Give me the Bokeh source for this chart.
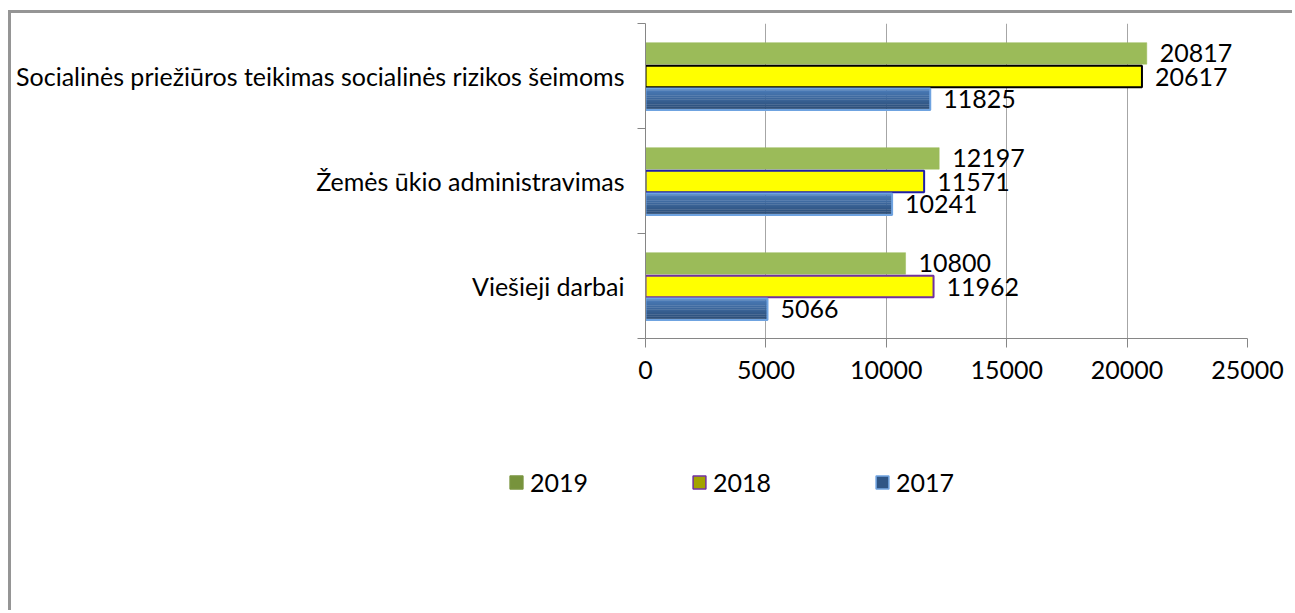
from bokeh.plotting import figure
from bokeh.models import Range1d, FixedTicker, ColumnDataSource, Legend, LegendItem, LabelSet
from bokeh.embed import file_html
from bokeh.resources import INLINE
from bokeh.core.properties import value

# ---- data ----
categories = ["Viešieji darbai",
              "Žemės ūkio administravimas",
              "Socialinės priežiūros teikimas socialinės rizikos šeimoms"]
years = ["2019", "2018", "2017"]
v2019 = [10800, 12197, 20817]
v2018 = [11962, 11571, 20617]
v2017 = [5066, 10241, 11825]
x_ticks = [0, 5000, 10000, 15000, 20000, 25000]

FONT = "Lato"
FS = "25px"
AXIS_C = "#868686"
BORDER = "3px solid #959595"
W = 1284

p = figure(width=W, height=400, x_range=Range1d(0, 25000), y_range=Range1d(0, len(categories)),
           output_backend="svg", toolbar_location=None,
           min_border_left=634, min_border_right=48, min_border_top=10, min_border_bottom=75)
p.styles = {"border-top": BORDER, "border-left": BORDER, "margin-left": "8px", "margin-top": "10px"}
p.outline_line_color = None
p.background_fill_color = "white"

# legend-only figure directly under the chart (separate root, no frame alignment)
lg = figure(width=W, height=200, x_range=Range1d(0, 25000), y_range=Range1d(0, len(categories)),
            output_backend="svg", toolbar_location=None, min_border=0,
            x_axis_location=None, y_axis_location=None)
lg.styles = {"border-left": BORDER, "margin-left": "8px"}
lg.grid.visible = False
lg.outline_line_color = None

centers = [i + 0.5 for i in range(len(categories))]

series = [
    dict(vals=v2019, off=0.215, fill="#9bbb59", line=["#9bbb59"] * 3, lw=0.5,
         lfill="#77933c", lline="#77933c", grad=None),
    dict(vals=v2018, off=-0.005, fill="#ffff00", line=["#7030a0", "#1f1fa8", "#000000"], lw=2,
         lfill="#a3a300", lline="#7030a0", grad=None),
    dict(vals=v2017, off=-0.222, fill=None, line=["#6fa3e0"] * 3, lw=2,
         lfill="#2f5585", lline="#6fa3e0",
         grad=["#4b7cb8", "#4878b3", "#4573ad", "#426fa7", "#3f6ba1", "#3c669b", "#396295",
               "#365e8f", "#335989", "#305582", "#2e517c", "#2c4d75"]),
]
BAR_H = 0.205

legend_items = []
for yr, s in zip(years, series):
    ys = [c + s["off"] for c in centers]
    src = ColumnDataSource(dict(y=ys, v=s["vals"],
                                lab=[str(v) for v in s["vals"]], lc=s["line"]))
    if s["grad"]:
        n = len(s["grad"])
        sh = BAR_H / n
        for k, col in enumerate(s["grad"]):
            p.hbar(y=[y + BAR_H / 2 - sh * (k + 0.5) for y in ys], left=0, right=s["vals"],
                   height=sh * 1.15, fill_color=col, line_color=None)
    p.hbar(y="y", left=0, right="v", height=BAR_H, source=src,
           fill_color=s["fill"], line_color="lc", line_width=s["lw"])
    p.add_layout(LabelSet(x="v", y="y", text="lab", source=src, x_offset=13,
                          text_baseline="middle", text_align="left",
                          text_font=value(FONT), text_font_size=FS, text_color="#000000"))
    # hidden renderer (same data) used only for the legend swatch
    sw = lg.hbar(y=ys, left=0, right=s["vals"], height=BAR_H, fill_color=s["lfill"],
                 line_color=s["lline"], line_width=1.5, visible=False)
    legend_items.append(LegendItem(label=yr, renderers=[sw]))

# x axis
p.xaxis.ticker = FixedTicker(ticks=x_ticks)
p.xaxis.axis_line_color = AXIS_C
p.xaxis.major_tick_line_color = AXIS_C
p.xaxis.major_tick_in = 0
p.xaxis.major_tick_out = 9
p.xaxis.minor_tick_line_color = None
p.xaxis.major_label_text_font = FONT
p.xaxis.major_label_text_font_size = FS
p.xaxis.major_label_text_color = "#000000"
p.xaxis.major_label_standoff = 13
p.xgrid.ticker = FixedTicker(ticks=x_ticks)
p.xgrid.grid_line_color = "#a6a6a6"
p.ygrid.visible = False

# y axis
p.yaxis.ticker = FixedTicker(ticks=centers, minor_ticks=list(range(len(categories) + 1)))
p.yaxis.major_label_overrides = {c: n for c, n in zip(centers, categories)}
p.yaxis.axis_line_color = AXIS_C
p.yaxis.major_tick_line_color = None
p.yaxis.major_tick_out = 0
p.yaxis.major_tick_in = 0
p.yaxis.minor_tick_line_color = AXIS_C
p.yaxis.minor_tick_out = 8
p.yaxis.minor_tick_in = 0
p.yaxis.major_label_standoff = 13
p.yaxis.major_label_text_font = FONT
p.yaxis.major_label_text_font_size = FS
p.yaxis.major_label_text_color = "#000000"

legend = Legend(items=legend_items, orientation="horizontal", location=(497, 113),
                glyph_width=16, glyph_height=16, label_standoff=6, spacing=103,
                padding=0, margin=0, border_line_color=None, background_fill_alpha=0,
                label_text_font=FONT, label_text_font_size=FS, label_text_color="#000000")
lg.add_layout(legend)

open("out.html", "w").write(file_html([p, lg], INLINE))
